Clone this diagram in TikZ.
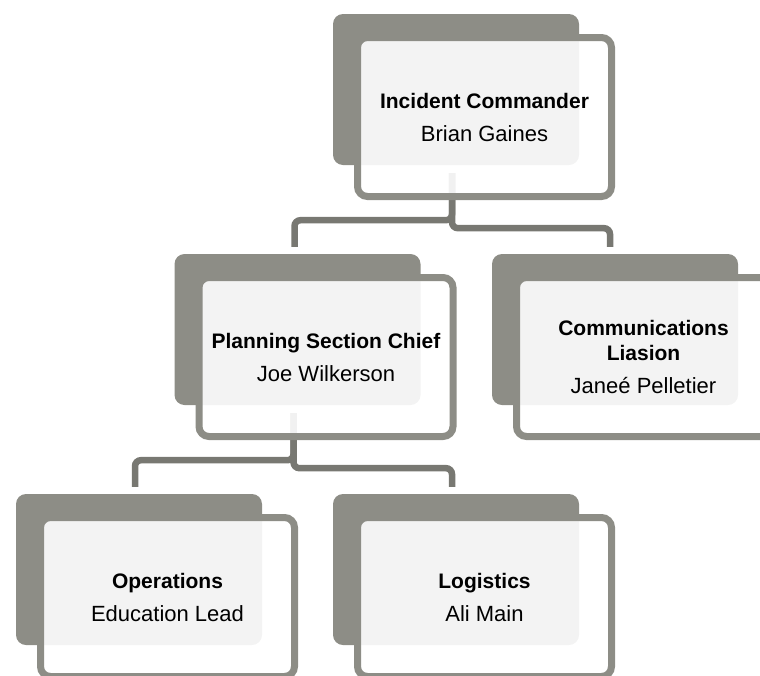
\documentclass[tikz,border=0pt]{standalone}
\usepackage{fontspec}
\setmainfont{Liberation Sans}
\definecolor{cardgray}{RGB}{141,141,134}
\definecolor{linkgray}{RGB}{120,120,114}
\newcommand{\cardtitle}[1]{\textbf{\fontsize{21}{25}\selectfont #1}}
\tikzset{
    backcard/.style={fill=cardgray, rounded corners=10pt, inner sep=0pt,
        minimum width=246pt, minimum height=151pt},
    frontcard/.style={draw=cardgray, line width=7pt, fill=white, fill opacity=0.9,
        text opacity=1, rounded corners=10pt, inner sep=0pt, align=center,
        minimum width=254pt, minimum height=159pt,
        font=\fontsize{22}{25}\selectfont},
    link/.style={draw=linkgray, line width=6.5pt, rounded corners=6pt},
}
\begin{document}
\begin{tikzpicture}[x=1pt,y=-1pt]
\useasboundingbox (0,0) rectangle (760,675);

% dark cards behind
\foreach \nm/\cx/\cy in {ic/456/89.5, psc/297.5/329.5, cl/615/329.5, ops/139/569.5, logi/456/569.5}
    \node[backcard] (\nm-back) at (\cx,\cy) {};

% elbow links
\draw[link] ([xshift=-4pt,yshift=-8pt]ic-back.south) -- ++(0,47) -| ([xshift=-3pt,yshift=7pt]psc-back.north);
\draw[link] ([xshift=-4pt,yshift=-8pt]ic-back.south) -- ++(0,55) -| ([xshift=-5pt,yshift=7pt]cl-back.north);
\draw[link] ([xshift=-4pt,yshift=-8pt]psc-back.south) -- ++(0,47) -| ([xshift=-4pt,yshift=7pt]ops-back.north);
\draw[link] ([xshift=-4pt,yshift=-8pt]psc-back.south) -- ++(0,55) -| ([xshift=-4pt,yshift=7pt]logi-back.north);

% framed cards with the names
\foreach \nm/\cx/\cy/\txt in {
    ic/456/89.5/{\cardtitle{Incident Commander}\\[8pt]Brian Gaines},
    psc/297.5/329.5/{\cardtitle{Planning Section Chief}\\[8pt]Joe Wilkerson},
    cl/615/329.5/{\cardtitle{Communications}\\\cardtitle{Liasion}\\[8pt]Janeé Pelletier},
    ops/139/569.5/{\cardtitle{Operations}\\[8pt]Education Lead},
    logi/456/569.5/{\cardtitle{Logistics}\\[8pt]Ali Main}}
    \node[frontcard] (\nm) at (\cx+28.5,\cy+27.5) {\txt};
\end{tikzpicture}
\end{document}
